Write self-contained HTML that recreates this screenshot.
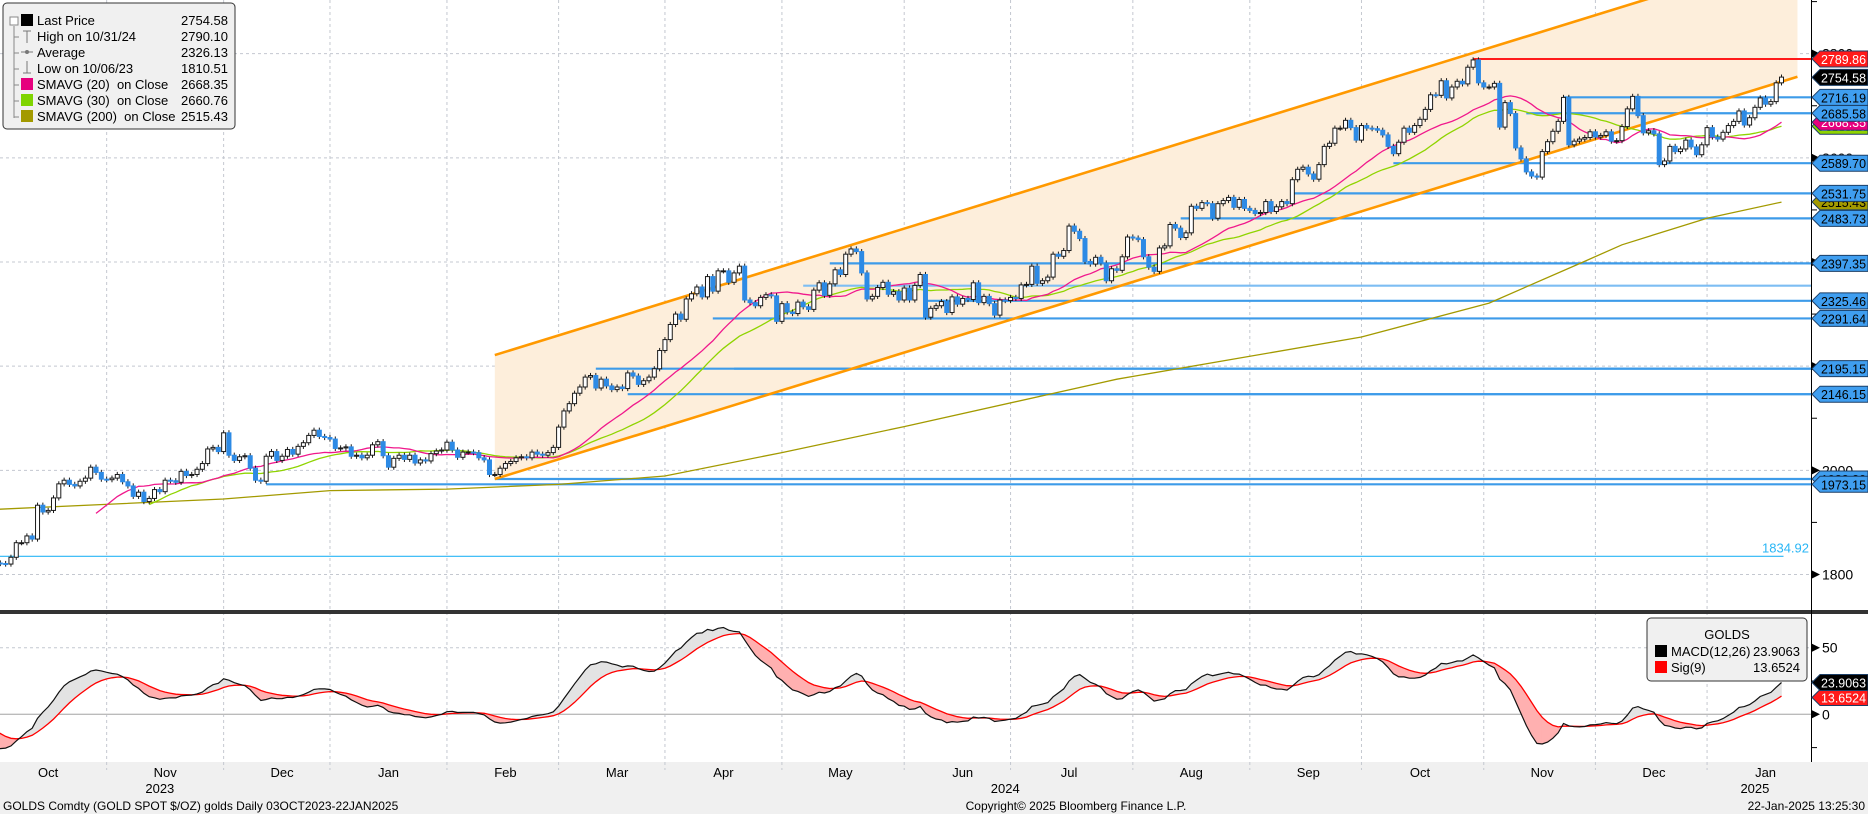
<!DOCTYPE html>
<html>
<head>
<meta charset="utf-8">
<style>
  html,body{margin:0;padding:0;background:#fff;}
  svg{display:block;font-family:"Liberation Sans","DejaVu Sans",sans-serif;}
</style>
</head>
<body>
<svg id="chart" width="1868" height="814" viewBox="0 0 1868 814" xmlns="http://www.w3.org/2000/svg">
  <rect x="0" y="0" width="1868" height="814" fill="#ffffff"/>
  <rect x="0" y="762" width="1868" height="52" fill="#f0f0f0"/>
  <defs>
    <clipPath id="pclip"><rect x="0" y="0" width="1811" height="610"/></clipPath>
    <clipPath id="mclip"><rect x="0" y="614" width="1811" height="148"/></clipPath>
  </defs>
  <g id="grid"></g>
  <g id="price" clip-path="url(#pclip)"></g>
  <g id="macd" clip-path="url(#mclip)"></g>
  <g id="axes"></g>
  <g id="tags"></g>

  <!-- legend -->
  <g font-size="13" fill="#000" style="white-space:pre">
    <rect x="3" y="3" width="232" height="126" rx="4" fill="#f0f0f0" stroke="#333" stroke-width="1"/>
    <path d="M14 26 V118 M14 37 H19 M14 53 H19 M14 69 H19 M14 85 H19 M14 101 H19 M14 117 H19" stroke="#888" fill="none"/>
    <rect x="10" y="17" width="8" height="8" fill="#fff" stroke="#888"/>
    <rect x="21" y="14" width="12" height="12" fill="#000"/>
    <path d="M27 31 V43 M23 31 H31" stroke="#777"/>
    <path d="M21 52 H33" stroke="#777"/><circle cx="27" cy="52" r="2" fill="#777"/>
    <path d="M27 61 V73 M23 73 H31" stroke="#777"/>
    <rect x="21" y="78" width="12" height="12" fill="#e6007e"/>
    <rect x="21" y="94" width="12" height="12" fill="#7fd400"/>
    <rect x="21" y="110" width="12" height="12" fill="#a39a00"/>
    <text x="37" y="25">Last Price</text><text x="228" y="25" text-anchor="end">2754.58</text>
    <text x="37" y="41">High on 10/31/24</text><text x="228" y="41" text-anchor="end">2790.10</text>
    <text x="37" y="57">Average</text><text x="228" y="57" text-anchor="end">2326.13</text>
    <text x="37" y="73">Low on 10/06/23</text><text x="228" y="73" text-anchor="end">1810.51</text>
    <text x="37" y="89">SMAVG (20)&#160; on Close</text><text x="228" y="89" text-anchor="end">2668.35</text>
    <text x="37" y="105">SMAVG (30)&#160; on Close</text><text x="228" y="105" text-anchor="end">2660.76</text>
    <text x="37" y="121">SMAVG (200)&#160; on Close</text><text x="228" y="121" text-anchor="end">2515.43</text>
  </g>

  <!-- macd legend -->
  <g font-size="13" fill="#000">
    <rect x="1647" y="618" width="160" height="63" rx="4" fill="#f0f0f0" stroke="#333"/>
    <text x="1727" y="639" text-anchor="middle">GOLDS</text>
    <rect x="1655" y="645" width="12" height="12" fill="#000"/>
    <text x="1671" y="656">MACD(12,26)</text><text x="1800" y="656" text-anchor="end">23.9063</text>
    <rect x="1655" y="661" width="12" height="12" fill="#ff0000"/>
    <text x="1671" y="672">Sig(9)</text><text x="1800" y="672" text-anchor="end">13.6524</text>
  </g>

  <g font-size="12" fill="#000">
    <text x="3" y="810">GOLDS Comdty (GOLD SPOT $/OZ) golds  Daily 03OCT2023-22JAN2025</text>
    <text x="1076" y="810" text-anchor="middle">Copyright© 2025 Bloomberg Finance L.P.</text>
    <text x="1865" y="810" text-anchor="end">22-Jan-2025 13:25:30</text>
  </g>
</svg>

<script>
// ---------------- data ----------------
const startDate = "2023-10-03";
const endDate = "2025-01-22";
const holidays = ["2023-12-25","2024-01-01","2024-03-29","2024-12-25","2025-01-01"];
const closes = [
1822,1821,1820,1833,1861,1861,1874,1868,1933,1920,1923,1947,1974,1981,1973,1970,1979,1985,2006,1996,1983,
1982,1985,1992,1978,1970,1950,1958,1940,1946,1963,1959,1981,1980,1977,1998,1990,1992,2002,2013,2041,2044,2036,
2072,2029,2019,2026,2028,2004,1981,1979,2027,2036,2019,2027,2040,2031,2046,2053,2067,2077,2065,2063,
2060,2042,2043,2045,2027,2029,2024,2029,2049,2055,2028,2006,2023,2029,2021,2029,2014,2020,2018,2032,2037,2039,
2054,2039,2025,2035,2035,2034,2024,2020,1992,1992,2004,2013,2017,2024,2026,2024,2035,2031,2029,2034,2044,
2083,2114,2128,2148,2160,2179,2182,2158,2175,2162,2155,2160,2157,2187,2181,2165,2172,2179,2195,2230,
2251,2280,2300,2290,2329,2339,2352,2333,2372,2344,2383,2383,2361,2379,2392,2327,2322,2316,2332,2337,2335,2286,
2320,2304,2301,2323,2314,2309,2346,2360,2336,2358,2385,2376,2415,2425,2420,2379,2329,2334,2351,2361,2338,2343,2327,
2350,2327,2355,2376,2294,2311,2316,2324,2303,2333,2319,2330,2328,2360,2322,2334,2320,2298,2327,2326,
2332,2330,2356,2357,2392,2359,2364,2371,2415,2411,2422,2469,2459,2445,2401,2396,2409,2398,2364,2387,2384,2410,2448,
2446,2443,2410,2390,2382,2427,2431,2472,2465,2447,2456,2507,2503,2514,2512,2484,2512,2518,2524,2505,2520,2503,
2499,2493,2495,2516,2497,2506,2516,2512,2558,2578,2582,2569,2559,2587,2622,2628,2657,2657,2672,2658,2634,
2662,2657,2656,2653,2644,2622,2608,2630,2657,2649,2662,2674,2693,2721,2720,2748,2715,2736,2747,2742,2774,2788,2744,
2736,2736,2743,2659,2706,2685,2619,2598,2573,2565,2563,2612,2631,2651,2670,2716,2625,2632,2636,2639,2650,
2640,2643,2650,2632,2633,2660,2694,2718,2681,2648,2652,2646,2587,2594,2622,2612,2617,2634,2621,2606,2625,
2658,2640,2636,2649,2662,2670,2690,2663,2677,2697,2715,2703,2708,2744,2755
];
const firstOpen = 1826;
const wickExtra = 5;
// 200-day SMA (dates and values)
const sma200Dates = ["2023-10-03","2023-12-01","2024-01-02","2024-02-01","2024-03-01","2024-04-01","2024-05-01","2024-06-03","2024-07-29","2024-10-01","2024-11-04","2024-11-27","2024-12-09","2025-01-02","2025-01-22"];
const sma200Values = [1925,1945,1961,1964,1973,1989,2034,2084,2175,2256,2321,2397,2433,2484,2515];
// horizontal support/resistance levels: start date and price
const levelDates = ["2024-05-14","2024-05-07","2024-06-07","2024-04-12","2024-04-18","2024-04-30","2024-03-12","2024-03-20","2024-02-14","2023-12-13","2024-08-14","2024-09-12","2024-10-09","2024-11-13","2024-11-22"];
const levelPrices = [2397.35,2354.5,2325.46,2291.64,2195.15,2146.15,2195.15,2146.15,1983.3,1973.15,2483.73,2531.75,2589.70,2685.58,2716.19];
const levelLabels = ["2397.35","","2325.46","2291.64","2195.15","2146.15","","","1983.30","1973.15","2483.73","2531.75","2589.70","2685.58","2716.19"];
const highLevelDate = "2024-10-30";
const highLevelPrice = 2789.86;
const lastPrice = 2754.58;
const lowLinePrice = 1834.92;
// channel: lower line anchors (date, price), channel width in price
const channelStartDate = "2024-02-14";
const channelStartPrice = 1983.3;
const channelEndDate = "2025-01-27";
const channelEndPrice = 2755.8;
const channelWidth = 238;
// MACD seeds
const ema12Seed = 1846, ema26Seed = 1872, sigSeed = -8;
const priceTicks = [1800,2000,2200,2400,2600,2800];
const priceMinorTicks = [1800,1900,2000,2100,2200,2300,2400,2500,2600,2700,2800,2900];
const macdTicks = [50,0];
const macdMinorTicks = [50,25,0,-25];
const monthNames = ["Jan","Feb","Mar","Apr","May","Jun","Jul","Aug","Sep","Oct","Nov","Dec"];
const yearLabels = ["2023","2024","2025"];
const yearLabelDates = ["2023-11-15","2024-06-28","2025-01-15"];

// ---------------- scales ----------------
const NS="http://www.w3.org/2000/svg";
const X0=-5, STEP=5.317, PLOT_R=1811;
function yP(p){return 484.3-(p-1973.15)*0.5208;}
function yM(v){return 714.3-v*1.332;}
const dates=[];
(function(){let d=new Date(startDate+"T00:00:00Z");const e=new Date(endDate+"T00:00:00Z");
 while(d<=e){const w=d.getUTCDay();const s=d.toISOString().slice(0,10);
  if(w!==0&&w!==6&&holidays.indexOf(s)<0)dates.push(s);d=new Date(d.getTime()+86400000);}})();
function xI(i){return X0+i*STEP;}
function idxOf(s){
  let i=dates.indexOf(s); if(i>=0) return i;
  if(s>dates[dates.length-1]){let d=new Date(dates[dates.length-1]+"T00:00:00Z"),e=new Date(s+"T00:00:00Z"),n=0;
    while(d<e){d=new Date(d.getTime()+86400000);const w=d.getUTCDay();if(w&&w!==6)n++;}return dates.length-1+n;}
  for(let k=0;k<dates.length;k++) if(dates[k]>s) return k;
  return 0;
}
function xD(s){return xI(idxOf(s));}
function mk(tag,attrs,parent){const e=document.createElementNS(NS,tag);for(const k in attrs)e.setAttribute(k,attrs[k]);parent.appendChild(e);return e;}

const grid=document.getElementById('grid'),price=document.getElementById('price'),macdG=document.getElementById('macd'),axes=document.getElementById('axes'),tags=document.getElementById('tags');

// ---------------- grid ----------------
const monthStarts=[];
dates.forEach((d,i)=>{if(i===0||d.slice(0,7)!==dates[i-1].slice(0,7))monthStarts.push(i);});
monthStarts.forEach((i,k)=>{
  const x = k===0 ? xI(i-1) : xI(i);
  if(k>0){
    const g=mk('line',{x1:x,y1:0,x2:x,y2:770,stroke:'#c4c8d0','stroke-dasharray':'3,3','stroke-width':1},grid);
    
    
  }
  const ym=dates[i].slice(0,7);
  const t=mk('text',{x:x+11*STEP,y:777,'font-size':13,'text-anchor':'middle',fill:'#000'},axes);
  t.textContent=monthNames[parseInt(ym.slice(5,7),10)-1];
  
  
});
yearLabels.forEach((y,k)=>{
  const t=mk('text',{x:xD(yearLabelDates[k]),y:793,'font-size':13,'text-anchor':'middle',fill:'#000'},axes);
  t.textContent=y;
  
  
});
priceTicks.forEach(p=>{
  const l=mk('line',{x1:0,y1:yP(p),x2:PLOT_R,y2:yP(p),stroke:'#c4c8d0','stroke-dasharray':'3,3'},grid);
  
  
});
{const l=mk('line',{x1:0,y1:yM(50),x2:PLOT_R,y2:yM(50),stroke:'#c4c8d0','stroke-dasharray':'3,3'},grid);
 
 
 const z=mk('line',{x1:0,y1:yM(0),x2:PLOT_R,y2:yM(0),stroke:'#bbbbbb','stroke-width':1.3},grid);
 
 }

// ---------------- channel ----------------
const cx1=xD(channelStartDate), cx2=xD(channelEndDate);
const ly1=yP(channelStartPrice), ly2=yP(channelEndPrice);
const uy1=yP(channelStartPrice+channelWidth), uy2=yP(channelEndPrice+channelWidth);
const ch=mk('polygon',{points:`${cx1},${ly1} ${cx2},${ly2} ${cx2},${uy2} ${cx1},${uy1}`,fill:'#fdeedb'},price);



levelDates.forEach((d,k)=>{
  const y=yP(levelPrices[k]);
  const l=mk('line',{x1:xD(d),y1:y,x2:PLOT_R,y2:y,stroke:levelLabels[k]===''&&k===1?'#7dbdf3':'#3d9be9','stroke-width':2.2},price);
  
  
});
{const y=yP(highLevelPrice);
 const l=mk('line',{x1:xD(highLevelDate),y1:y,x2:PLOT_R,y2:y,stroke:'#ff1a1a','stroke-width':2},price);
 
 }
{const y=yP(lowLinePrice);
 const l=mk('line',{x1:0,y1:y,x2:xD(endDate)+2,y2:y,stroke:'#29b6f6','stroke-width':1.2},price);
 
 
 const t=mk('text',{x:1809,y:y-4,'font-size':13,'text-anchor':'end',fill:'#29b6f6'},price);
 t.textContent=lowLinePrice.toFixed(2);
 
 }
[[ly1,ly2],[uy1,uy2]].forEach(([a,b],k)=>{
  const l=mk('line',{x1:cx1,y1:a,x2:cx2,y2:b,stroke:'#ff9900','stroke-width':2.6},price);
  
  
});

// ---------------- moving averages ----------------
function sma(n){const out=[];for(let i=0;i<closes.length;i++){if(i<n-1){out.push(null);continue;}let s=0;for(let j=i-n+1;j<=i;j++)s+=closes[j];out.push(s/n);}return out;}
function poly(vals,color,w,name){
  const pts=[];vals.forEach((v,i)=>{if(v!==null)pts.push(xI(i).toFixed(1)+','+yP(v).toFixed(1));});
  const p=mk('polyline',{points:pts.join(' '),fill:'none',stroke:color,'stroke-width':w},price);
  
  
}
{const pts=sma200Dates.map((d,k)=>xD(d).toFixed(1)+','+yP(sma200Values[k]).toFixed(1));
 const p=mk('polyline',{points:pts.join(' '),fill:'none',stroke:'#a39a00','stroke-width':1.3},price);
 
 }
poly(sma(30),'#8fd400',1.3,'sma30-line');
poly(sma(20),'#f0188c',1.3,'sma20-line');

// ---------------- candles ----------------
closes.forEach((c,i)=>{
  const o=i===0?firstOpen:closes[i-1];
  const x=xI(i);
  const hi=Math.max(o,c)+wickExtra, lo=Math.min(o,c)-wickExtra;
  const w=mk('line',{x1:x,y1:yP(hi),x2:x,y2:yP(lo),stroke:'#1a1a1a','stroke-width':1},price);
  
  
  const top=yP(Math.max(o,c)),bot=yP(Math.min(o,c));
  const up=c>=o;
  const b=mk('rect',{x:x-2,y:top,width:4,height:Math.max(1,bot-top),fill:up?'#ffffff':'#2d8ae5',stroke:up?'#1a1a1a':'#2d8ae5','stroke-width':1},price);
  
  
});

// ---------------- MACD ----------------
const macdVals=[],sigVals=[];
{let e12=ema12Seed,e26=ema26Seed,sg=sigSeed;const a12=2/13,a26=2/27,a9=2/10;
 closes.forEach(c=>{e12=e12+a12*(c-e12);e26=e26+a26*(c-e26);const m=e12-e26;sg=sg+a9*(m-sg);macdVals.push(m);sigVals.push(sg);});}
for(let i=0;i<closes.length-1;i++){
  const above=(macdVals[i]+macdVals[i+1])>(sigVals[i]+sigVals[i+1]);
  const q=mk('polygon',{points:`${xI(i)},${yM(macdVals[i])} ${xI(i+1)},${yM(macdVals[i+1])} ${xI(i+1)},${yM(sigVals[i+1])} ${xI(i)},${yM(sigVals[i])}`,fill:above?'#e3e3e3':'#ffb0b0',stroke:above?'#e3e3e3':'#ffb0b0','stroke-width':0.5},macdG);
  
  
}
{const s=mk('polyline',{points:sigVals.map((v,i)=>xI(i).toFixed(1)+','+yM(v).toFixed(1)).join(' '),fill:'none',stroke:'#ff0000','stroke-width':1.3},macdG);
 
 
 const m=mk('polyline',{points:macdVals.map((v,i)=>xI(i).toFixed(1)+','+yM(v).toFixed(1)).join(' '),fill:'none',stroke:'#111','stroke-width':1.2},macdG);
 
 }

// ---------------- axes ----------------
{const d=mk('rect',{x:0,y:610,width:1868,height:4,fill:'#333'},axes);
 
 
 const a=mk('line',{x1:1811.5,y1:0,x2:1811.5,y2:762,stroke:'#000','stroke-width':1},axes);
 
 }
priceMinorTicks.forEach(p=>{
  const t=mk('line',{x1:1811,y1:yP(p),x2:1817,y2:yP(p),stroke:'#000'},axes);
  
  
});
priceTicks.forEach(p=>{
  const y=yP(p);
  const a=mk('polygon',{points:`1812,${y-4} 1820,${y} 1812,${y+4}`,fill:'#000'},axes);
  
  
  const t=mk('text',{x:1822,y:y+5,'font-size':14,fill:'#000'},axes);
  t.textContent=String(p);
  
  
});
macdMinorTicks.forEach(v=>{
  const t=mk('line',{x1:1811,y1:yM(v),x2:1817,y2:yM(v),stroke:'#000'},axes);
  
  
});
macdTicks.forEach(v=>{
  const y=yM(v);
  const a=mk('polygon',{points:`1812,${y-4} 1820,${y} 1812,${y+4}`,fill:'#000'},axes);
  
  
  const t=mk('text',{x:1822,y:y+5,'font-size':14,fill:'#000'},axes);
  t.textContent=String(v);
  
  
});

// ---------------- tags ----------------
function tag(y,text,fill,color,name){
  const g=mk('g',{},tags);
  
  
  mk('polygon',{points:`1812,${y} 1820,${y-8} 1868,${y-8} 1868,${y+8} 1820,${y+8}`,fill:fill,stroke:'#1b3e66','stroke-width':1},g);
  const t=mk('text',{x:1821,y:y+5,'font-size':13,fill:color,textLength:45,lengthAdjust:'spacingAndGlyphs'},g);
  t.textContent=text;
}
tag(yP(2515.43),'2515.43','#a39a00','#000','sma200-tag');
tag(yP(2660.76),'2660.76','#8fd400','#fff','sma30-tag');
tag(yP(2668.35),'2668.35','#e6007e','#fff','sma20-tag');
levelPrices.forEach((p,k)=>{
  if(levelLabels[k]==='') return;
  tag(yP(p),levelLabels[k],'#3f9ef0','#000','level-tag');
});
tag(yP(lastPrice),lastPrice.toFixed(2),'#000','#fff','last-price-tag');
tag(yP(highLevelPrice),highLevelPrice.toFixed(2),'#ff1a1a','#fff','high-price-tag');
tag(yM(sigVals[sigVals.length-1])>yM(macdVals[macdVals.length-1])+14?yM(sigVals[sigVals.length-1]):yM(macdVals[macdVals.length-1])+15,'13.6524','#ff1a1a','#fff','signal-tag');
tag(yM(macdVals[macdVals.length-1]),'23.9063','#000','#fff','macd-tag');
</script>
</body>
</html>
